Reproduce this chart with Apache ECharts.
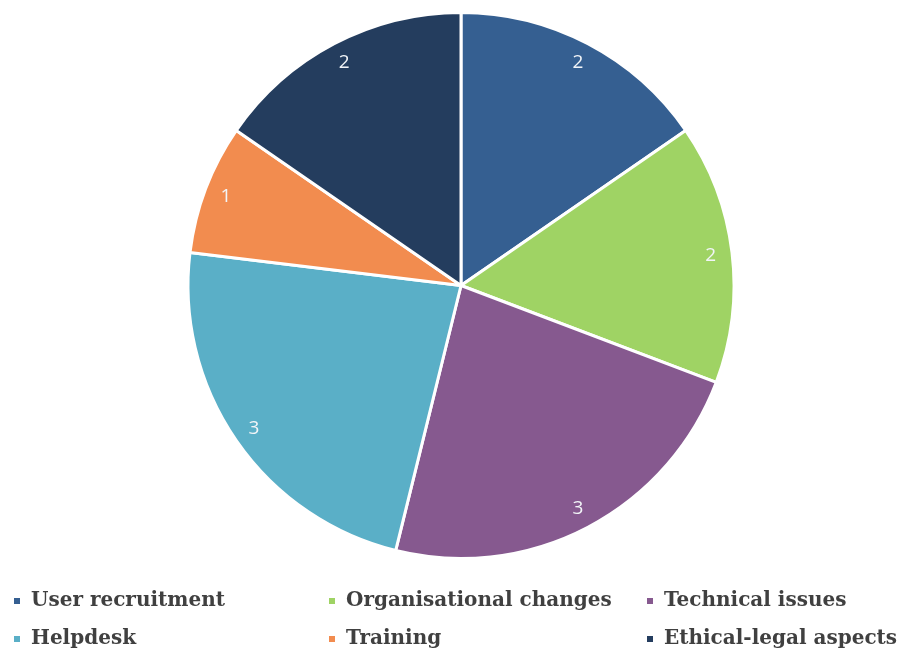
<!DOCTYPE html>
<html>
<head>
<meta charset="utf-8">
<title>Barriers by category</title>
<script src="https://cdn.jsdelivr.net/npm/echarts@6/dist/echarts.min.js"></script>
<style>
  html, body { margin: 0; padding: 0; background: #ffffff; }
  #chart { width: 898px; height: 648px; }
</style>
</head>
<body>
<div id="chart"></div>
<script>
// Categories and their counts, in clockwise order from 12 o'clock
const categories = [
  'User recruitment',
  'Organisational changes',
  'Technical issues',
  'Helpdesk',
  'Training',
  'Ethical-legal aspects'
];
const counts = [2, 2, 3, 3, 1, 2];
const sliceColors = ['#355f91', '#9fd364', '#86598f', '#5aafc7', '#f28c4f', '#243d5e'];

// Legend laid out as a 3-column grid: each column is its own legend
const legendColumns = [
  [categories[0], categories[3]],
  [categories[1], categories[4]],
  [categories[2], categories[5]]
];
const legendLeft = [12, 327, 645];

const pieData = categories.map((name, i) => ({
  name: name,
  value: counts[i],
  itemStyle: { color: sliceColors[i] }
}));

const chart = echarts.init(document.getElementById('chart'), null, { renderer: 'canvas' });

const legendFont = {
  color: '#404040',
  fontFamily: 'DejaVu Serif',
  fontWeight: 'bold',
  fontSize: 20,
  lineHeight: 20,
  padding: [0, 0, 0, 5]
};

chart.setOption({
  backgroundColor: '#ffffff',
  animation: false,
  legend: legendColumns.map((col, c) => ({
    data: col,
    orient: 'vertical',
    left: legendLeft[c],
    top: 591,
    height: 100,
    padding: 0,
    itemWidth: 8,
    itemHeight: 8,
    itemGap: 18,
    icon: 'rect',
    textStyle: legendFont,
    selectedMode: false
  })),
  series: [
    {
      type: 'pie',
      center: [461, 285.5],
      radius: [0, 273],
      startAngle: 90,
      clockwise: true,
      avoidLabelOverlap: false,
      itemStyle: { borderColor: '#ffffff', borderWidth: 3 },
      label: { show: false },
      labelLine: { show: false },
      emphasis: { disabled: true },
      data: pieData
    },
    {
      // transparent outer ring that carries the value labels near the rim
      type: 'pie',
      center: [461, 285.5],
      radius: [224, 273],
      startAngle: 90,
      clockwise: true,
      silent: true,
      avoidLabelOverlap: false,
      itemStyle: { color: 'rgba(0,0,0,0)', borderWidth: 0 },
      label: {
        show: true,
        position: 'inside',
        formatter: '{c}',
        color: '#f2f5f8',
        fontFamily: 'Open Sans',
        fontSize: 19
      },
      labelLine: { show: false },
      emphasis: { disabled: true },
      data: categories.map((name, i) => ({ name: name, value: counts[i] }))
    }
  ]
});
</script>
</body>
</html>
